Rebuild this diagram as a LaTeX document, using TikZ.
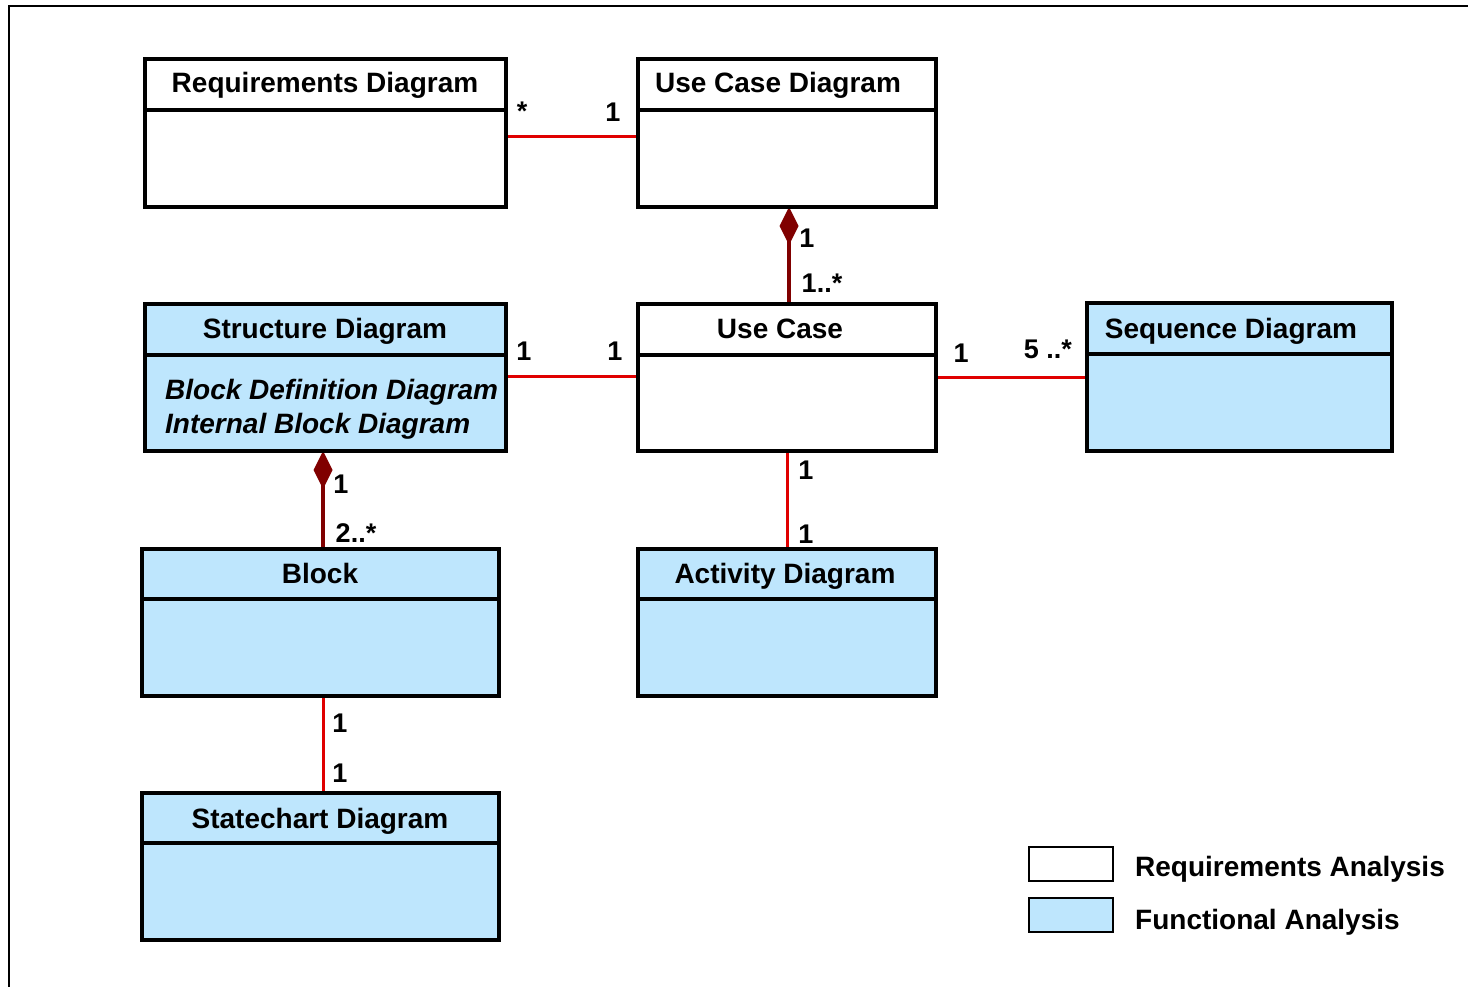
\documentclass[tikz,border=0pt]{standalone}
\usepackage{fontspec}
\setmainfont{Liberation Sans}
\usetikzlibrary{arrows.meta}
\pgfdeclarelayer{bg}
\pgfsetlayers{bg,main}
\definecolor{funcblue}{HTML}{BEE6FD}
\definecolor{assocred}{HTML}{E00000}
\definecolor{compred}{HTML}{800000}
\begin{document}
\begin{tikzpicture}[x=1pt,y=-1pt,
  umlbox/.style={draw, line width=3.5pt, inner sep=0pt, outer sep=0pt, fill=white},
  funcbox/.style={umlbox, fill=funcblue},
  wide/.style={minimum width=361pt, minimum height=148pt},
  mid/.style={minimum width=298pt, minimum height=148pt},
  divider/.style={line width=3.5pt},
  title/.style={inner sep=0pt, anchor=base, font=\fontsize{28}{30}\selectfont\bfseries},
  subtitle/.style={inner sep=0pt, anchor=base west, font=\fontsize{28}{30}\selectfont\bfseries\itshape},
  mult/.style={inner sep=0pt, anchor=base, font=\fontsize{27}{29}\selectfont\bfseries},
  assoc/.style={draw=assocred, line width=3pt},
  comp/.style={draw=compred, line width=3.2pt, -{Diamond[length=38pt,width=19pt,fill=compred]}},
  legendbox/.style={draw, line width=1.5pt, inner sep=0pt, minimum width=84pt, minimum height=34pt},
  legendtext/.style={inner sep=0pt, anchor=base west, font=\fontsize{28}{30}\selectfont\bfseries}
]
\useasboundingbox (0,0) rectangle (1468,987);

% outer frame (top and left edges)
\draw[line width=2pt] (9,987) -- (9,6) -- (1468,6);

% class boxes
\node[umlbox, wide] (req) at (325.5,133) {};
\node[umlbox, mid] (ucd) at (787,133) {};
\node[funcbox, minimum width=361pt, minimum height=147pt] (sd) at (325.5,377.5) {};
\node[umlbox, minimum width=298pt, minimum height=147pt] (uc) at (787,377.5) {};
\node[funcbox, minimum width=305pt, minimum height=148pt] (seq) at (1239.5,377) {};
\node[funcbox, minimum width=357pt, minimum height=147pt] (bl) at (320.5,622.5) {};
\node[funcbox, minimum width=298pt, minimum height=147pt] (act) at (787,622.5) {};
\node[funcbox, minimum width=357pt, minimum height=147pt] (sc) at (320.5,866.5) {};

% header dividers
\foreach \b in {req,ucd,sd,uc,seq}
  \draw[divider] ([yshift=-51pt]\b.north west) -- ([yshift=-51pt]\b.north east);
\foreach \b in {bl,act,sc}
  \draw[divider] ([yshift=-50pt]\b.north west) -- ([yshift=-50pt]\b.north east);

% titles
\node[title] (reqT) at (325,93) {Requirements Diagram};
\node[title] (ucdT) at (778,93) {Use Case Diagram};
\node[title] (sdT) at (325,338) {Structure Diagram};
\node[title] (ucT) at (780,338) {Use Case};
\node[title] (seqT) at (1231,338) {Sequence Diagram};
\node[title] (blT) at (320,583) {Block};
\node[title] (actT) at (785,583) {Activity Diagram};
\node[title] (scT) at (320,828) {Statechart Diagram};
\node[subtitle] (bdd) at (165,399) {Block Definition Diagram};
\node[subtitle] (ibd) at (165,433) {Internal Block Diagram};

% connectors
\begin{pgfonlayer}{bg}
  \draw[assoc] ([yshift=-4pt]req.east) -- ([yshift=-4pt]ucd.west);
  \draw[comp] ([xshift=2pt]uc.north) -- ([xshift=2pt]ucd.south);
  \draw[assoc] ([yshift=1.5pt]sd.east) -- ([yshift=1.5pt]uc.west);
  \draw[assoc] (uc.east) -- (seq.west |- uc.east);
  \draw[assoc] (uc.south) -- (act.north);
  \draw[comp] ([xshift=2.5pt]bl.north) -- ([xshift=-2.5pt]sd.south);
  \draw[assoc] ([xshift=2.5pt]bl.south) -- ([xshift=2.5pt]sc.north);
\end{pgfonlayer}

% multiplicities
\node[mult] (m1) at (522,121) {*};
\node[mult] (m2) at (613,122) {1};
\node[mult] (m3) at (807,248) {1};
\node[mult] (m4) at (822,293) {1..*};
\node[mult] (m5) at (524,360) {1};
\node[mult] (m6) at (615,360) {1};
\node[mult] (m7) at (961,362) {1};
\node[mult] (m8) at (1048,358) {5 ..*};
\node[mult] (m9) at (806,479) {1};
\node[mult] (m10) at (806,543) {1};
\node[mult] (m11) at (341,493) {1};
\node[mult] (m12) at (356,542) {2..*};
\node[mult] (m13) at (340,732) {1};
\node[mult] (m14) at (340,782) {1};

% legend
\node[legendbox, fill=white] (lgReq) at (1071,864) {};
\node[legendbox, fill=funcblue] (lgFun) at (1071,915) {};
\node[legendtext] (lgReqT) at (1135,876) {Requirements Analysis};
\node[legendtext] (lgFunT) at (1135,929) {Functional Analysis};
\end{tikzpicture}
\end{document}
